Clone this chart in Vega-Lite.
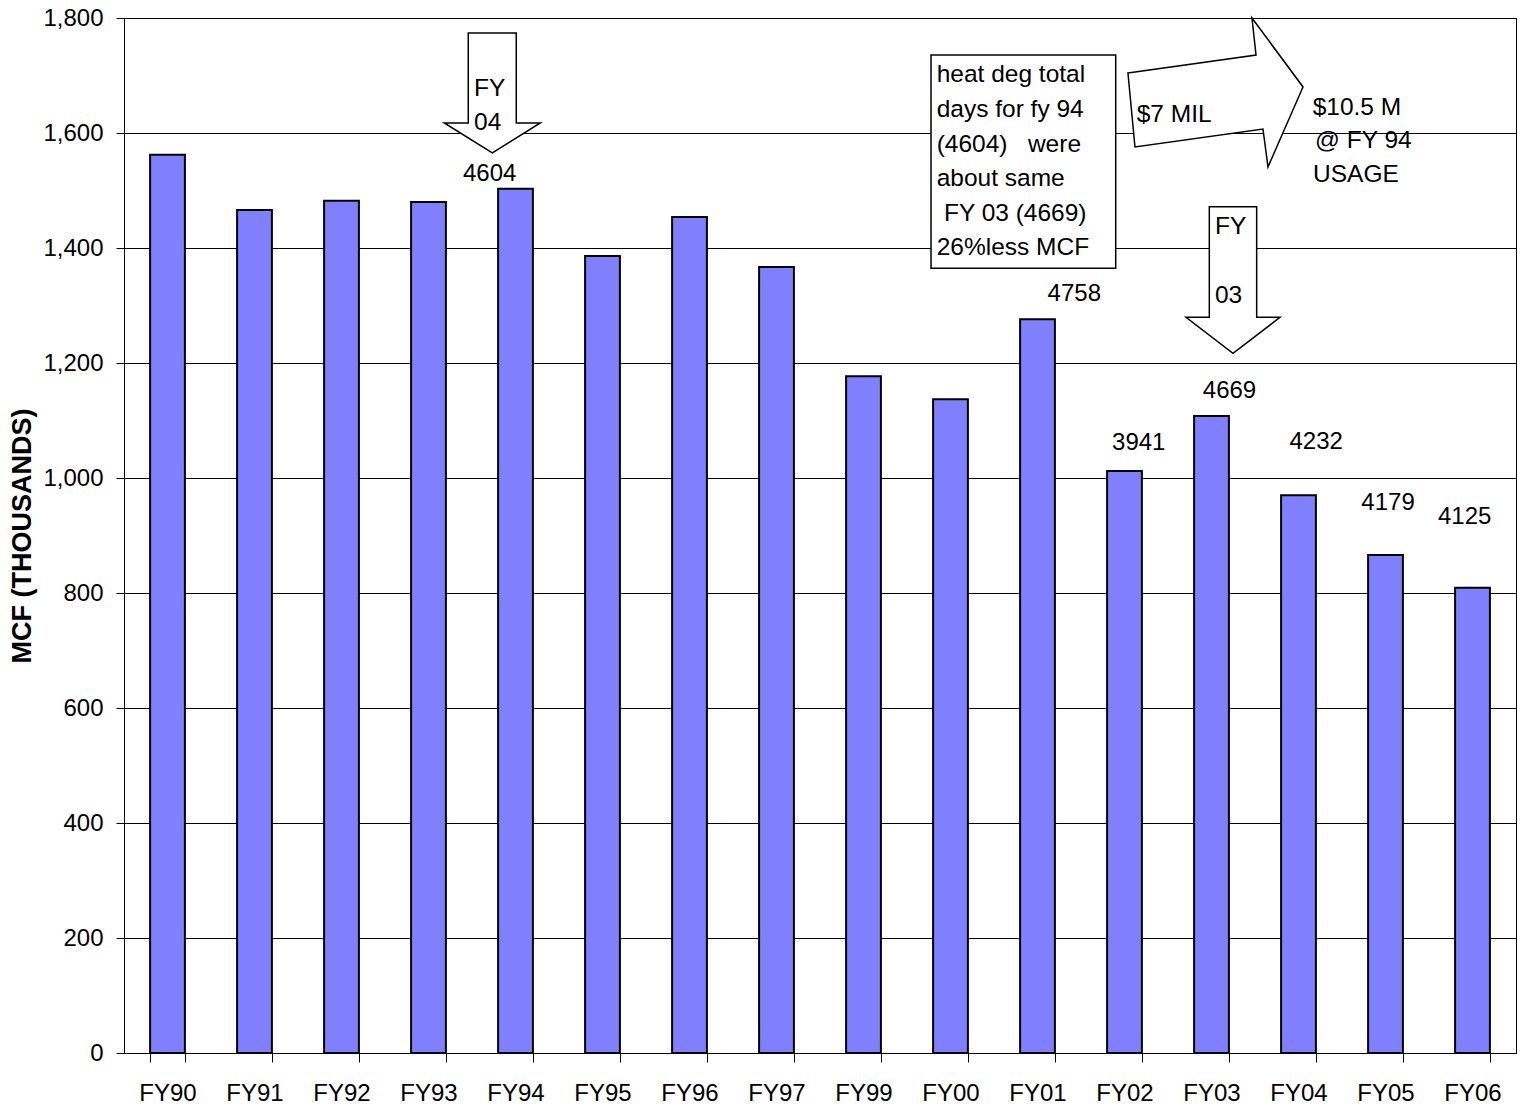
{
  "$schema": "https://vega.github.io/schema/vega-lite/v6.json",
  "width": 1392,
  "height": 1035,
  "autosize": {"type": "none"},
  "padding": {"left": 124, "top": 18, "right": 7, "bottom": 60},
  "background": "white",
  "config": {
    "font": "Liberation Sans",
    "view": {"stroke": "black", "strokeWidth": 1},
    "text": {"font": "Liberation Sans"}
  },
  "datasets": {
    "usage": [
      {"year": "FY90", "value": 1562},
      {"year": "FY91", "value": 1466},
      {"year": "FY92", "value": 1482},
      {"year": "FY93", "value": 1480},
      {"year": "FY94", "value": 1503},
      {"year": "FY95", "value": 1386},
      {"year": "FY96", "value": 1454},
      {"year": "FY97", "value": 1367},
      {"year": "FY99", "value": 1177},
      {"year": "FY00", "value": 1137},
      {"year": "FY01", "value": 1276},
      {"year": "FY02", "value": 1012},
      {"year": "FY03", "value": 1108},
      {"year": "FY04", "value": 970},
      {"year": "FY05", "value": 866},
      {"year": "FY06", "value": 809}
    ],
    "box": [{"x": 9.276, "x2": 11.399, "value": 1735.7, "value2": 1364.7}],
    "arrowFY04": [{"x": 4.233, "value": 1669.6}],
    "arrowFY03": [{"x": 12.747, "value": 1344.3}],
    "arrowRight": [{"x": 12.54, "value": 1671.3}],
    "valueLabels": [
      {"x": 4.203, "value": 1516.5, "label": "4604"},
      {"x": 10.923, "value": 1307.8, "label": "4758"},
      {"x": 11.664, "value": 1048.7, "label": "3941"},
      {"x": 12.707, "value": 1138.6, "label": "4669"},
      {"x": 13.703, "value": 1049.9, "label": "4232"},
      {"x": 14.529, "value": 944.3, "label": "4179"},
      {"x": 15.41, "value": 920, "label": "4125"}
    ],
    "notes": [
      {"x": 4.023, "value": 1664.3, "label": "FY"},
      {"x": 4.023, "value": 1605.2, "label": "04"},
      {"x": 12.54, "value": 1423.8, "label": "FY"},
      {"x": 12.54, "value": 1303.8, "label": "03"},
      {"x": 9.341, "value": 1689.2, "label": "heat deg total"},
      {"x": 9.341, "value": 1628.3, "label": "days for fy 94"},
      {"x": 9.341, "value": 1567.5, "label": "(4604)\u00a0\u00a0 were"},
      {"x": 9.341, "value": 1507.8, "label": "about same"},
      {"x": 9.425, "value": 1447.5, "label": "FY 03 (4669)"},
      {"x": 9.341, "value": 1387.8, "label": "26%less MCF"},
      {"x": 11.64, "value": 1619.7, "label": "$7 MIL"},
      {"x": 13.663, "value": 1631.3, "label": "$10.5 M"},
      {"x": 13.69, "value": 1573.9, "label": "@ FY 94"},
      {"x": 13.667, "value": 1514.8, "label": "USAGE"}
    ]
  },
  "encoding": {
    "y": {
      "field": "value",
      "type": "quantitative",
      "title": "MCF (THOUSANDS)",
      "scale": {"domain": [0, 1800], "nice": false},
      "axis": {
        "values": [0, 200, 400, 600, 800, 1000, 1200, 1400, 1600, 1800],
        "format": ",.0f",
        "labelFont": "Liberation Sans",
        "labelFontSize": 24,
        "labelColor": "black",
        "labelPadding": 13,
        "tickSize": 8,
        "tickColor": "black",
        "domainColor": "black",
        "grid": true,
        "gridColor": "black",
        "gridOpacity": 1,
        "titleFont": "Liberation Sans",
        "titleFontSize": 27,
        "titleFontWeight": "bold",
        "titleColor": "black",
        "titlePadding": 6
      }
    }
  },
  "layer": [
    {
      "data": {"name": "usage"},
      "mark": {"type": "bar", "fill": "#8080FF", "stroke": "black", "strokeWidth": 2},
      "encoding": {
        "x": {
          "field": "year",
          "type": "nominal",
          "sort": null,
          "scale": {"paddingInner": 0.6, "paddingOuter": 0.3},
          "axis": {
            "title": null,
            "labelAngle": 0,
            "labelFont": "Liberation Sans",
            "labelFontSize": 24,
            "labelColor": "black",
            "labelPadding": 19,
            "tickSize": 9,
            "tickColor": "black",
            "tickBand": "extent",
            "domainColor": "black",
            "grid": false
          }
        }
      }
    },
    {
      "encoding": {
        "x": {"field": "x", "type": "quantitative", "scale": {"domain": [0, 16], "nice": false, "zero": false}, "axis": null}
      },
      "layer": [
        {
          "data": {"name": "box"},
          "mark": {"type": "rect", "fill": "white", "stroke": "black", "strokeWidth": 1.5},
          "encoding": {"x2": {"field": "x2"}, "y2": {"field": "value2"}}
        },
        {
          "data": {"name": "arrowFY04"},
          "mark": {"type": "point", "shape": "M-0.4,-1L0.4,-1L0.4,0.5L0.8,0.5L0,1L-0.8,0.5L-0.4,0.5Z", "size": 14400, "filled": true, "fill": "white", "stroke": "black", "strokeWidth": 1.5, "opacity": 1}
        },
        {
          "data": {"name": "arrowFY03"},
          "mark": {"type": "point", "shape": "M-0.323,-1L0.323,-1L0.323,0.509L0.641,0.509L0,1L-0.641,0.509L-0.323,0.509Z", "size": 21492, "filled": true, "fill": "white", "stroke": "black", "strokeWidth": 1.5, "opacity": 1}
        },
        {
          "data": {"name": "arrowRight"},
          "mark": {"type": "point", "shape": "M-0.967,-0.211L0.456,-0.411L0.411,-0.822L0.978,-0.056L0.589,0.833L0.533,0.411L-0.889,0.611Z", "size": 32400, "filled": true, "fill": "white", "stroke": "black", "strokeWidth": 1.5, "opacity": 1}
        },
        {
          "data": {"name": "valueLabels"},
          "mark": {"type": "text", "align": "center", "baseline": "alphabetic", "fontSize": 24, "color": "black", "font": "Liberation Sans"},
          "encoding": {"text": {"field": "label"}}
        },
        {
          "data": {"name": "notes"},
          "mark": {"type": "text", "align": "left", "baseline": "alphabetic", "fontSize": 24.5, "color": "black", "font": "Liberation Sans"},
          "encoding": {"text": {"field": "label"}}
        }
      ]
    }
  ],
  "resolve": {"scale": {"x": "independent"}, "axis": {"x": "independent"}}
}
